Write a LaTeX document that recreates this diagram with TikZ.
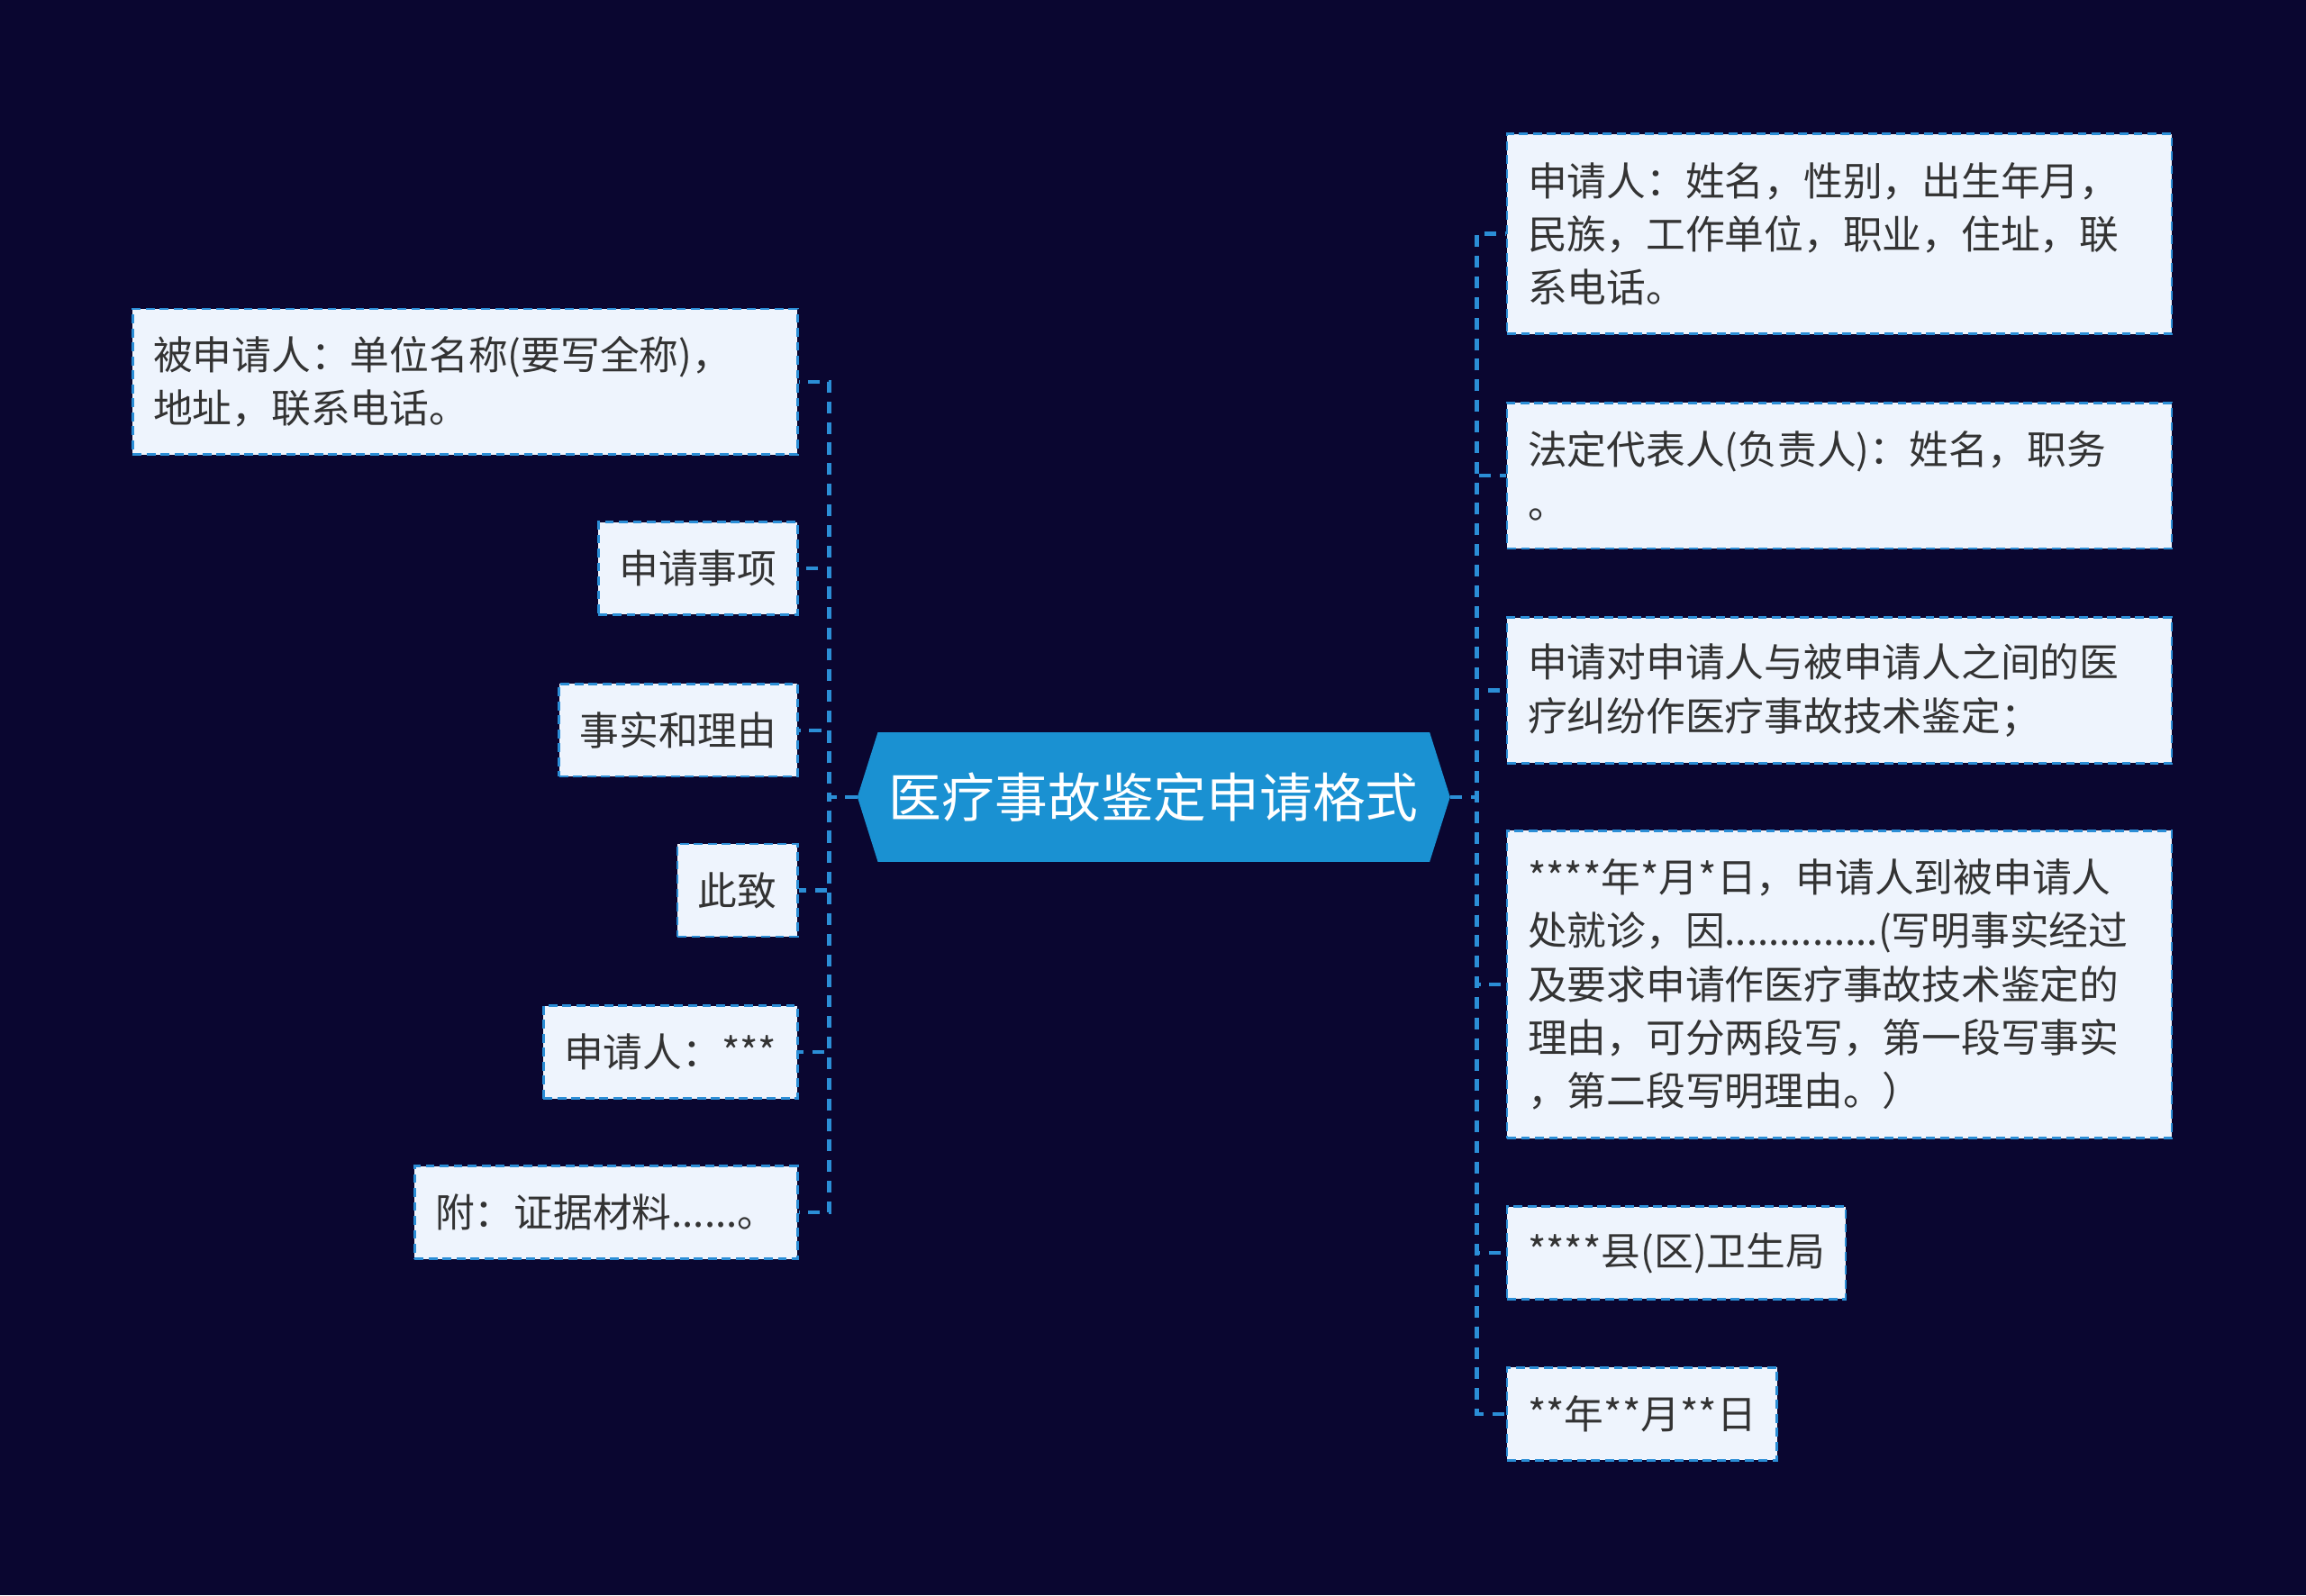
\documentclass[tikz,border=0pt]{standalone}
\usepackage{fontspec}
\setmainfont{Noto Sans CJK SC}
\usetikzlibrary{shapes.symbols}

\definecolor{bgnavy}{HTML}{0A0630}
\definecolor{leaffill}{HTML}{EEF4FD}
\definecolor{linkblue}{HTML}{2B8ED6}
\definecolor{hubblue}{HTML}{1A91D2}
\definecolor{inkgray}{HTML}{333333}

\tikzset{
 leaf/.style={draw=linkblue, line width=1.6pt, dash pattern=on 6pt off 3.5pt,
   fill=leaffill, text=inkgray, inner xsep=14pt, inner ysep=3pt,
   minimum height=63pt, align=left, font=\fontsize{26.8}{36.3}\selectfont},
 hub/.style={signal, signal to=west and east, signal pointer angle=145,
   fill=hubblue, text=white, minimum width=403pt, minimum height=88pt,
   inner sep=0pt, font=\fontsize{36}{40}\selectfont},
 link/.style={linkblue, line width=2.6pt, dash pattern=on 8pt off 6pt},
}

\begin{document}
\begin{tikzpicture}[x=1pt, y=-1pt]
\fill[bgnavy] (0,0) rectangle (1568,1085);
\useasboundingbox (0,0) rectangle (1568,1085);

\node[hub] (hub) at (784.5,542) {医疗事故鉴定申请格式};

% left side
\node[leaf, text width=424pt, minimum height=99pt, anchor=east] (l1) at (543,259.5)
  {被申请人：单位名称(要写全称)，\\地址，联系电话。};
\node[leaf, anchor=east] (l2) at (543,386.5) {申请事项};
\node[leaf, anchor=east] (l3) at (543,496.5) {事实和理由};
\node[leaf, anchor=east] (l4) at (543,605.5) {此致};
\node[leaf, anchor=east] (l5) at (543,715.5) {申请人：***};
\node[leaf, anchor=east] (l6) at (543,824.5) {附：证据材料......。};

% right side
\node[leaf, text width=424pt, minimum height=136pt, anchor=west] (r1) at (1024,159)
  {申请人：姓名，性别，出生年月，\\民族，工作单位，职业，住址，联\\系电话。};
\node[leaf, text width=424pt, minimum height=99pt, anchor=west] (r2) at (1024,323.5)
  {法定代表人(负责人)：姓名，职务\\。};
\node[leaf, text width=424pt, minimum height=99pt, anchor=west] (r3) at (1024,469.5)
  {申请对申请人与被申请人之间的医\\疗纠纷作医疗事故技术鉴定；};
\node[leaf, text width=424pt, minimum height=209pt, anchor=west] (r4) at (1024,669.5)
  {****年*月*日，申请人到被申请人\\处就诊，因..............(写明事实经过\\及要求申请作医疗事故技术鉴定的\\理由，可分两段写，第一段写事实\\，第二段写明理由。）};
\node[leaf, anchor=west] (r5) at (1024,852) {****县(区)卫生局};
\node[leaf, anchor=west] (r6) at (1024,961.5) {**年**月**日};

% connectors
\foreach \n in {1,...,6} {
 \draw[link] (hub.west) -- ++(-19,0) |- (l\n.east);
 \draw[link] (hub.east) -- ++(18,0) |- (r\n.west);
}
\end{tikzpicture}
\end{document}
